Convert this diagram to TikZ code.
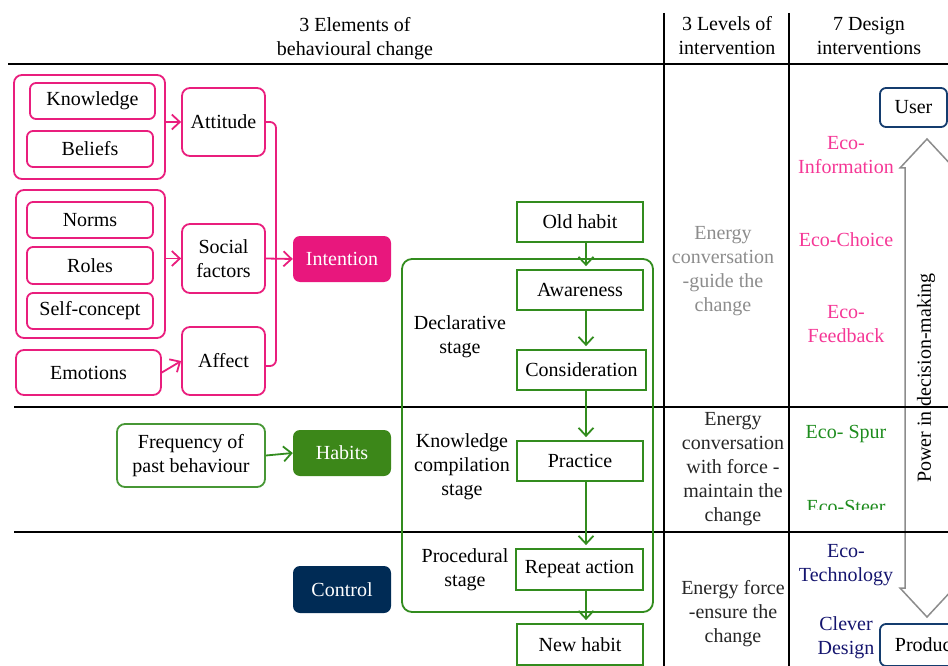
\documentclass[tikz,border=0pt]{standalone}
\usepackage{fontspec}
\setmainfont{Liberation Serif}
\usepackage{tikz}
\usetikzlibrary{shapes,calc,arrows.meta}

\definecolor{pinkline}{RGB}{233,30,125}
\definecolor{pinkfill}{RGB}{232,23,125}
\definecolor{ecopink}{RGB}{245,55,150}
\definecolor{greenline}{RGB}{50,140,30}
\definecolor{greenfill}{RGB}{60,135,25}
\definecolor{ecogreen}{RGB}{30,140,30}
\definecolor{navyfill}{RGB}{0,43,85}
\definecolor{navyline}{RGB}{20,60,110}
\definecolor{econavy}{RGB}{20,20,110}

\begin{document}
\begin{tikzpicture}[x=1pt,y=-1pt]
		\tikzset{every node/.style={font=\fontsize{20}{24}\selectfont,align=center,inner sep=2pt}};
		\tikzset{pbox/.style={draw=pinkline,line width=1.8pt,rounded corners=8pt,minimum width=#1}};
		\tikzset{fbox/.style={rounded corners=7pt,minimum width=98,minimum height=46,text=white,fill=#1}};
		\tikzset{gbox/.style={draw=greenline,line width=1.8pt,minimum height=40,minimum width=126}};
		\tikzset{parr/.style={->,pinkline,line width=1.8pt,>={Straight Barb[length=8pt,width=15pt]}}};
		\tikzset{garr/.style={->,greenline,line width=1.8pt,>={Straight Barb[length=8pt,width=15pt]}}};
		
		\useasboundingbox (0,0) rectangle (948,666);
		\clip (0,0) rectangle (948,666);
		
		% table lines
		\draw [line width=2pt] (8,64)--(948,64);
		\foreach \y in {407,532}
		\draw [line width=2pt] (14,\y)--(948,\y);
		\foreach \x in {664,789}
		\draw [line width=2pt] (\x,13)--(\x,666);
		
		\node (h1) at (355,39) {3 Elements of\\behavioural change};
		\node (h2) at (727,36) {3 Levels of\\intervention};
		\node (h3) at (869,36) {7 Design\\interventions};
		
		% attitude, social factors, affect
		\node (g1) at (89.5,127) [pbox=151,minimum height=104]{};
		\node (kn) at (92.5,101) [pbox=125,minimum height=36,rounded corners=6pt]{Knowledge};
		\node (be) at (90,149) [pbox=126,minimum height=36,rounded corners=6pt]{Beliefs};
		\node (g2) at (90.5,264) [pbox=149,minimum height=148]{};
		\node (no) at (90,220) [pbox=126,minimum height=36,rounded corners=6pt]{Norms};
		\node (ro) at (90,265.5) [pbox=126,minimum height=37,rounded corners=6pt]{Roles};
		\node (sc) at (90,311) [pbox=126,minimum height=36,rounded corners=6pt]{Self-concept};
		\node (em) at (88.5,372.5) [pbox=145,minimum height=45]{Emotions};
		\node (att) at (223.5,122) [pbox=83,minimum height=68]{Attitude};
		\node (soc) at (223.5,258.5) [pbox=83,minimum height=69]{Social\\factors};
		\node (aff) at (223.5,361) [pbox=83,minimum height=68]{Affect};
		\node (int) at (342,259) [fbox=pinkfill]{Intention};
		\coordinate (jn) at (276,259);
		
		\draw [parr] (g1.east|-att) -- (att.west);
		\draw [parr] (g2.east|-soc) -- (soc.west);
		\draw [parr] (em.east) -- (aff.west);
		\draw [pinkline,line width=1.8pt,rounded corners=6pt] (att.east) -| (jn) |- ([yshift=-5pt]aff.east);
		\draw [parr] (soc.east) -- (int.west);
		
		% habits and control
		\node (fr) at (191,455.5) [draw=greenline!90!white,line width=1.8pt,rounded corners=8pt,minimum width=148,minimum height=63]{Frequency of\\past behaviour};
		\node (hab) at (342,453) [fbox=greenfill]{Habits};
		\draw [garr] (fr.east) -- (hab.west);
		\node (ctl) at (342,589.5) [fbox=navyfill,minimum height=47]{Control};
		
		% stages
		\draw [greenline,line width=1.8pt,rounded corners=10pt] (402,259) rectangle (653,612);
		\node (old) at (580,222) [gbox]{Old habit};
		\node (aw) at (580,290) [gbox]{Awareness};
		\node (con) at (581.5,370) [gbox,minimum width=129]{Consideration};
		\node (pr) at (580,461) [gbox]{Practice};
		\node (rep) at (579.5,569.5) [gbox,minimum width=127,minimum height=41]{Repeat action};
		\node (new) at (580,644.5) [gbox,minimum height=41]{New habit};
		\coordinate (ax) at (586,0);
		\draw [garr,shorten >=3pt] (old.south-|ax) -- (aw.north-|ax);
		\draw [garr,shorten >=3pt] (aw.south-|ax) -- (con.north-|ax);
		\draw [garr,shorten >=3pt] (con.south-|ax) -- (pr.north-|ax);
		\draw [garr,shorten >=3pt] (pr.south-|ax) -- (rep.north-|ax);
		\draw [garr,shorten >=3pt] (rep.south-|ax) -- (new.north-|ax);
		
		\node (st1) at (460,337) {Declarative\\stage};
		\node (st2) at (462,467) {Knowledge\\compilation\\stage};
		\node (st3) at (465,570) {Procedural\\stage};
		
		% levels of intervention
		\node (lv1) at (723,271) [text=black!45]{Energy\\conversation\\-guide the\\change};
		\node (lv2) at (733,469) [text=black!85]{Energy\\conversation\\with force -\\maintain the\\change};
		\node (lv3) at (733,614) [text=black!85]{Energy force\\-ensure the\\change};
		
		% design interventions
		\draw [black!45,line width=1.5pt] (927,139)--(954,168)--(949,168)--(949,588)--(954,588)--(927,617)--(900,588)--(905,588)--(905,168)--(900,168)--cycle;
		\node (pw) at (926,378) [rotate=90]{Power in decision-making};
		\foreach \y in {407,532}
		\draw [line width=2pt] (789,\y)--(948,\y);
		
		\node (usr) at (913.5,107.5) [draw=navyline,line width=1.8pt,rounded corners=6pt,minimum width=67,minimum height=39]{User};
		\node (prd) at (926,645) [draw=navyline,line width=1.8pt,rounded corners=6pt,minimum width=92,minimum height=42]{Product};
		
		\node (e1) at (846,155) [text=ecopink]{Eco-\\Information};
		\node (e2) at (846,240) [text=ecopink]{Eco-Choice};
		\node (e3) at (846,324) [text=ecopink]{Eco-\\Feedback};
		\node (e4) at (846,434) [text=ecogreen]{Eco- Spur};
		\begin{scope}
			\clip (790,480) rectangle (900,509);
			\node (e5) at (846,507) [text=ecogreen]{Eco-Steer};
		\end{scope}
		\node (e6) at (846,565) [text=econavy]{Eco-\\Technology};
		\node (e7) at (846,638) [text=econavy]{Clever\\Design};
\end{tikzpicture}
\end{document}
